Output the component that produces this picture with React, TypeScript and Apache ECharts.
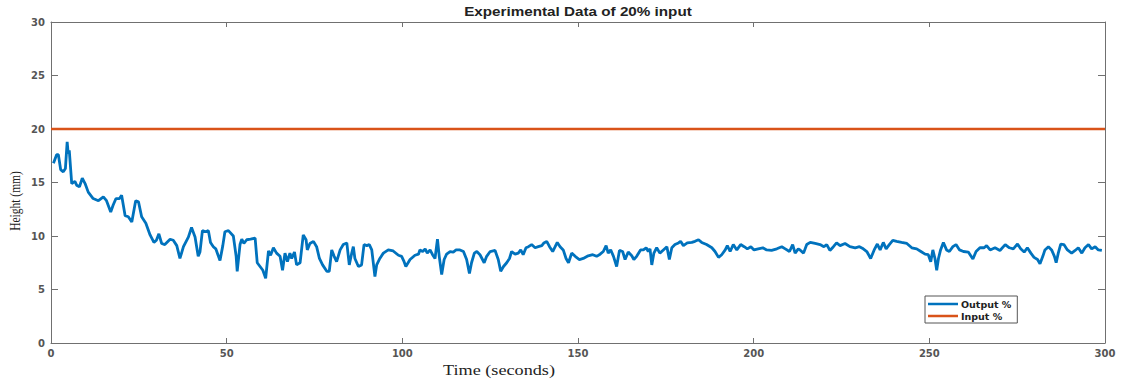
import React, { useEffect, useRef } from "react";
import * as echarts from "echarts";

const chartTitle = "Experimental Data of 20% input";
const xName = "Time (seconds)";
const yName = "Height (mm)";
const xTicks = [0, 50, 100, 150, 200, 250, 300];
const yTicks = [0, 5, 10, 15, 20, 25, 30];

const outputTimes = [
  0.7, 1.6, 2.1, 2.75, 3.5, 4.1, 4.6, 4.9, 5.2, 5.9, 6.8, 7.3, 8.1, 8.9, 9.7, 10.6, 12.0, 13.5, 14.9, 15.8,
  17.0, 17.7, 18.5, 19.5, 20.1, 21.1, 22.0, 23.0, 24.1, 24.9, 25.8, 27.0, 28.2, 29.3, 30.0, 30.7, 31.5, 32.4,
  33.9, 34.8, 35.8, 36.7, 37.7, 39.1, 40.0, 41.0, 41.9, 42.4, 43.1, 44.0, 44.8, 45.4, 46.2, 46.9, 48.1, 48.9,
  49.5, 50.5,
  51.9, 52.7, 53.0, 53.8, 54.3, 54.9, 55.7, 56.8, 58.1, 58.7, 59.5, 60.3, 61.1, 61.9, 62.5, 63.3, 64.2, 65.2,
  65.9, 66.6, 67.3, 68.0, 68.5, 69.3, 69.9, 70.9, 71.8, 72.6, 72.95, 73.7, 74.7, 75.6, 76.4, 77.3, 78.5, 79.2,
  79.9, 80.6, 81.3, 82.3, 83.2, 84.2, 84.9, 85.6, 86.05, 86.5, 87.5, 88.4, 89.1, 89.9, 90.6, 91.3, 92.2, 92.7,
  93.6, 94.6, 96.0, 97.4, 98.9, 99.8, 100.5, 101.0, 102.2, 103.6, 104.6,
  105.0, 105.8, 106.5, 107.1, 107.9, 108.6, 109.3, 110.0, 110.5, 111.2, 111.9, 112.6, 113.6, 114.5, 115.3,
  116.4, 117.4, 118.3, 119.1, 119.7, 120.5, 121.2, 122.1, 123.3, 124.0, 125.0, 126.4, 127.3, 128.0, 128.8,
  129.7, 130.5, 131.1, 132.1, 133.0, 133.7, 134.4, 135.2, 135.9, 136.8, 137.8, 138.7, 139.7, 140.3, 141.1,
  141.9, 142.8, 143.5, 144.1, 144.9, 145.8, 146.6, 147.3, 148.2, 149.2, 150.4, 151.5, 152.9, 154.2, 155.3,
  156.3, 157.2, 158.0, 158.6, 159.3,
  160.1, 161.0, 161.8, 162.7, 163.4, 164.3, 165.3, 165.9, 166.7, 167.8, 168.6, 169.4, 170.0, 170.5, 171.0,
  171.6, 172.4, 173.3, 174.3, 175.3, 176.0, 176.7, 177.6, 178.6, 179.2, 180.0, 181.1, 182.4, 183.3, 184.3,
  185.2, 186.6, 188.1, 189.0, 190.0, 190.9, 191.9, 192.5, 193.3, 194.2, 195.2, 196.3, 197.3, 198.2, 199.2,
  200.1, 201.3, 202.6, 203.7, 205.1, 206.6, 208.0, 209.0, 210.2, 211.1, 211.8, 212.7,
  213.2, 214.2, 215.1, 216.1, 217.5, 218.9, 220.0, 220.8, 221.7, 222.7, 223.6, 224.6, 226.0, 227.4, 228.9,
  230.1, 231.2, 232.2, 233.3, 234.3, 235.2, 236.0, 236.9, 237.7, 238.6, 239.6, 240.7, 242.1, 243.6, 245.0,
  246.4, 247.6, 248.8, 249.7, 250.4, 251.0, 251.6, 252.1, 252.6, 253.2, 254.0, 254.9, 255.7, 256.7, 257.6,
  258.6, 259.7, 261.1, 262.4, 263.3, 264.4, 265.6, 266.3,
  267.3, 268.7, 270.1, 271.6, 272.8, 273.9, 275.1, 276.0, 277.0, 277.9, 278.9, 279.8, 280.8, 281.5, 282.3,
  282.9, 283.9, 284.8, 285.6, 286.1, 286.7, 287.4, 288.3, 289.3, 290.5, 291.5, 292.4, 293.4, 294.3, 295.3,
  296.2, 297.2, 298.1, 299.1,
];

const outputHeights = [
  16.8, 17.6, 17.6, 16.2, 16.0, 16.3, 18.8, 17.7, 18.0, 14.9, 15.1, 14.75, 14.6, 15.4, 14.9, 14.1, 13.5, 13.3, 13.65, 13.3,
  12.25, 12.9, 13.5, 13.5, 13.8, 11.9, 11.8, 11.3, 13.3, 13.2, 11.8, 11.2, 10.1, 9.4, 9.6, 10.2, 9.3, 9.2,
  9.7, 9.6, 9.1, 7.9, 9.0, 9.9, 10.8, 9.9, 8.1, 8.5, 10.5, 10.4, 10.5, 9.4, 9.0, 8.8, 7.7, 9.1,
  10.4, 10.5,
  10.0, 8.1, 6.7, 9.2, 9.7, 9.3, 9.65, 9.7, 9.8, 7.5, 7.15, 6.8, 6.05, 8.6, 8.2, 8.9, 8.4, 8.1,
  6.8, 8.4, 7.6, 8.4, 7.9, 8.5, 7.3, 7.5, 10.1, 9.65, 8.7, 9.3, 9.5, 9.0, 7.9, 7.3, 6.7, 6.7,
  8.7, 8.1, 7.6, 8.7, 9.2, 9.35, 7.3, 8.4, 9.0, 7.9, 7.15, 7.3, 9.2, 9.1, 9.2, 8.7, 6.2, 7.3,
  7.9, 8.4, 8.7, 8.6, 8.2, 8.1, 7.6, 7.15, 7.8, 8.2, 8.3,
  8.7, 8.55, 8.8, 8.4, 8.7, 8.25, 7.9, 9.7, 8.1, 6.4, 7.8, 8.3, 8.55, 8.5, 8.7,
  8.7, 8.55, 7.8, 6.5, 7.5, 8.4, 8.55, 8.25, 7.5, 8.1, 8.55, 8.65, 7.8, 6.7, 7.15,
  7.5, 7.9, 8.55, 8.3, 8.4, 8.7, 8.25, 8.9, 9.0, 9.2, 8.9, 9.0, 9.1, 9.35, 9.5,
  9.0, 8.55, 9.0, 9.4, 9.0, 8.7, 7.9, 7.5, 8.4, 8.1, 7.8, 7.9, 8.15, 8.25, 8.1,
  8.3, 8.55, 9.1, 8.4, 8.7,
  8.1, 7.15, 8.65, 8.55, 7.8, 8.5, 8.15, 7.8, 8.1, 8.7, 8.7, 8.9, 8.55, 8.8, 7.3,
  8.4, 8.9, 8.4, 8.7, 9.0, 7.8, 8.9, 9.2, 9.35, 9.5, 9.1, 9.35, 9.4, 9.5, 9.65,
  9.4, 9.2, 8.9, 8.55, 8.0, 8.25, 8.7, 9.1, 8.55, 9.2, 8.7, 9.2, 9.0, 8.8, 9.0,
  8.7, 8.8, 8.9, 8.7, 8.65, 8.8, 9.0, 8.8, 8.55, 9.2, 8.4, 8.8,
  8.7, 8.4, 9.2, 9.4, 9.3, 9.2, 9.0, 9.2, 8.65, 9.0, 9.35, 9.1, 9.3, 9.0, 8.9,
  9.0, 8.8, 8.55, 7.9, 8.7, 9.25, 8.7, 9.4, 8.8, 9.2, 9.6, 9.5, 9.4, 9.3, 8.9,
  8.8, 8.55, 8.3, 8.25, 7.6, 8.7, 7.9, 6.8, 7.9, 8.7, 9.4, 8.7, 8.55, 9.0, 9.2,
  8.7, 8.55, 8.5, 7.85, 8.55, 8.9, 8.9, 9.1,
  8.7, 8.9, 8.65, 9.2, 8.9, 8.8, 9.25, 8.8, 8.5, 8.9, 8.4, 8.0, 7.8, 7.4, 8.1,
  8.7, 9.0, 8.7, 8.1, 7.5, 8.4, 9.25, 9.2, 8.7, 8.4, 8.65, 8.9, 8.4, 8.9, 9.2,
  8.8, 9.0, 8.7, 8.65,
];

const inputTimes = [0, 300];
const inputHeights = [20, 20];

const seriesNames = ["Output %", "Input %"];

export default function App() {
  const ref = useRef<HTMLDivElement>(null);

  useEffect(() => {
    document.body.style.margin = "0";
    if (!ref.current) return;
    const chart = echarts.init(ref.current, undefined, { renderer: "svg" });

    const outData = outputTimes.map((t, i) => [t, outputHeights[i]]);
    const inData = inputTimes.map((t, i) => [t, inputHeights[i]]);

    const axisLineColor = "#707070";
    const labelStyle = {
      color: "#555",
      fontFamily: "DejaVu Sans, Verdana, sans-serif",
      fontWeight: "bold" as const,
      fontSize: 10,
    };

    const xAxisBase = {
      type: "value" as const,
      min: xTicks[0],
      max: xTicks[xTicks.length - 1],
      interval: 50,
      axisLine: { show: true, onZero: false, lineStyle: { color: axisLineColor, width: 1 } },
      axisTick: { show: true, inside: false, length: -5, lineStyle: { color: axisLineColor } },
      splitLine: { show: false },
    };
    const yAxisBase = {
      type: "value" as const,
      min: yTicks[0],
      max: yTicks[yTicks.length - 1],
      interval: 5,
      axisLine: { show: true, onZero: false, lineStyle: { color: axisLineColor, width: 1 } },
      axisTick: { show: true, inside: false, length: -7, lineStyle: { color: axisLineColor } },
      splitLine: { show: false },
    };

    chart.setOption({
      animation: false,
      backgroundColor: "#ffffff",
      grid: { left: 51, right: 16, top: 22, bottom: 39, containLabel: false },
      legend: {
        orient: "vertical",
        left: 925,
        top: 296,
        data: seriesNames,
        icon: "rect",
        itemWidth: 30,
        itemHeight: 2.5,
        itemGap: 2,
        padding: [3, 6, 2, 3],
        borderColor: "#555",
        borderWidth: 1,
        borderRadius: 0,
        backgroundColor: "#fff",
        textStyle: {
          fontFamily: "DejaVu Sans, Verdana, sans-serif",
          fontWeight: "bold",
          fontSize: 9.5,
          color: "#222",
          padding: [0, 0, 0, -2],
        },
      },
      xAxis: [
        { ...xAxisBase, axisLabel: { ...labelStyle, margin: 5 } },
        { ...xAxisBase, position: "top", axisLabel: { show: false } },
      ],
      yAxis: [
        { ...yAxisBase, axisLabel: { ...labelStyle, margin: 6 } },
        { ...yAxisBase, position: "right", axisLabel: { show: false } },
      ],
      graphic: [
        {
          type: "text",
          x: 578,
          y: 12,
          scaleX: 1.27,
          style: {
            text: chartTitle,
            fontFamily: "Liberation Sans, Arial, sans-serif",
            fontWeight: "bold",
            fontSize: 12,
            fill: "#222",
            align: "center",
            verticalAlign: "middle",
          },
        },
        {
          type: "text",
          x: 499,
          y: 371,
          scaleX: 1.3,
          style: {
            text: xName,
            fontFamily: "Liberation Serif, Times New Roman, serif",
            fontSize: 14,
            fill: "#222",
            align: "center",
            verticalAlign: "middle",
          },
        },
        {
          type: "text",
          x: 15,
          y: 201,
          rotation: Math.PI / 2,
          scaleY: 1.3,
          style: {
            text: yName,
            fontFamily: "Liberation Serif, Times New Roman, serif",
            fontSize: 11.5,
            fill: "#222",
            align: "center",
            verticalAlign: "middle",
          },
        },
      ],
      series: [
        {
          name: seriesNames[0],
          type: "line",
          data: outData,
          showSymbol: false,
          symbol: "none",
          lineStyle: { color: "#0072BD", width: 2.8 },
          itemStyle: { color: "#0072BD" },
          z: 3,
        },
        {
          name: seriesNames[1],
          type: "line",
          data: inData,
          showSymbol: false,
          symbol: "none",
          lineStyle: { color: "#D95319", width: 2.5 },
          itemStyle: { color: "#D95319" },
          z: 2,
        },
      ],
    });

    return () => chart.dispose();
  }, []);

  return <div ref={ref} style={{ width: 1121, height: 382 }} />;
}
